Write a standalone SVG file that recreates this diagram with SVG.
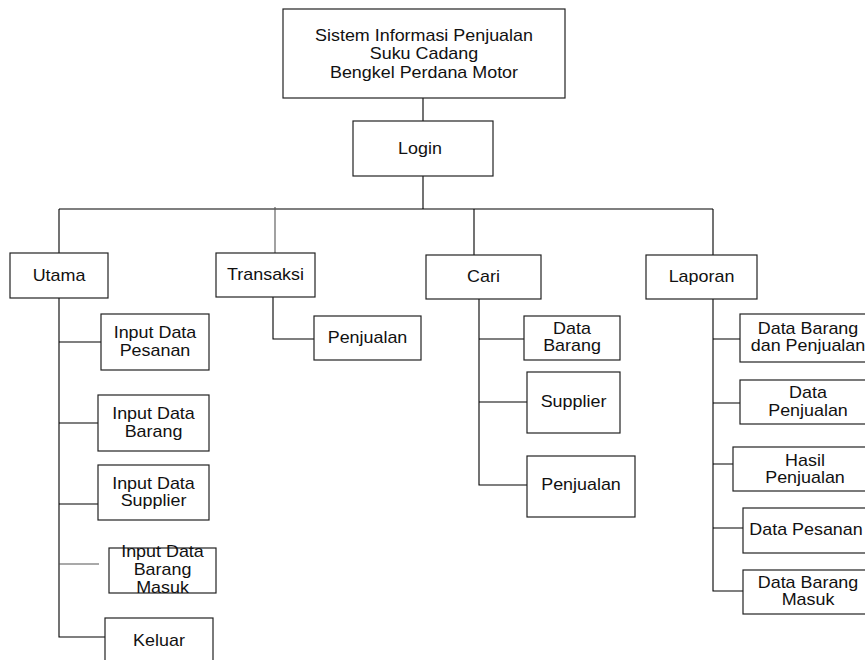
<svg xmlns="http://www.w3.org/2000/svg" width="865" height="660" viewBox="0 0 865 660">
<style>
.box{fill:#fff;stroke:#222;stroke-width:1.2}
.t{font-family:"Liberation Sans",Arial,sans-serif;font-size:16px;fill:#111;text-anchor:middle}
.c{fill:none;stroke:#000;stroke-width:1.1}
.g{stroke:#555}
</style>
<rect width="865" height="660" fill="#fff"/>
<g id="connectors">
<path class="c" d="M423 98V121M423 176V209M59 209H713M59 209V253M474 209V255M713 209V255"/>
<path class="c g" d="M275 207V253"/>
<path class="c" d="M59 298V637H105M59 342H101M59 423H98M59 504H98"/>
<path class="c g" d="M59 564H99"/>
<path class="c" d="M273 297V339H314"/>
<path class="c" d="M479 299V485H527M479 339H524M479 402H527"/>
<path class="c" d="M713 299V591H743M713 339H740M713 403H740M713 464H733M713 528H743"/>
</g>
<g id="root"><rect class="box" x="283" y="9" width="282" height="89"/>
<text class="t" transform="translate(424,41) scale(1.12,1)"><tspan x="0">Sistem Informasi Penjualan</tspan><tspan x="0" dy="18.5">Suku Cadang</tspan><tspan x="0" dy="18.5">Bengkel Perdana Motor</tspan></text></g>
<g id="login"><rect class="box" x="353" y="121" width="140" height="55"/>
<text class="t" transform="translate(420,154) scale(1.12,1)">Login</text></g>
<g id="utama"><rect class="box" x="10" y="253" width="98" height="45"/>
<text class="t" transform="translate(59,281) scale(1.12,1)">Utama</text></g>
<g id="transaksi"><rect class="box" x="216" y="253" width="99" height="44"/>
<text class="t" transform="translate(265.5,280) scale(1.12,1)">Transaksi</text></g>
<g id="cari"><rect class="box" x="426" y="255" width="115" height="44"/>
<text class="t" transform="translate(483.5,281.5) scale(1.12,1)">Cari</text></g>
<g id="laporan"><rect class="box" x="646" y="255" width="111" height="44"/>
<text class="t" transform="translate(701.5,281.5) scale(1.12,1)">Laporan</text></g>
<g id="input-pesanan"><rect class="box" x="101" y="314" width="108" height="56"/>
<text class="t" transform="translate(155,338) scale(1.12,1)"><tspan x="0">Input Data</tspan><tspan x="0" dy="18">Pesanan</tspan></text></g>
<g id="input-barang"><rect class="box" x="98" y="395" width="111" height="56"/>
<text class="t" transform="translate(153.5,419.3) scale(1.12,1)"><tspan x="0">Input Data</tspan><tspan x="0" dy="17.5">Barang</tspan></text></g>
<g id="input-supplier"><rect class="box" x="98" y="465" width="111" height="55"/>
<text class="t" transform="translate(153.5,489.3) scale(1.12,1)"><tspan x="0">Input Data</tspan><tspan x="0" dy="17">Supplier</tspan></text></g>
<g id="input-barang-masuk"><rect class="box" x="109" y="548" width="107" height="45"/>
<text class="t" transform="translate(162.5,557.3) scale(1.12,1)"><tspan x="0">Input Data</tspan><tspan x="0" dy="17.7">Barang</tspan><tspan x="0" dy="17.7">Masuk</tspan></text></g>
<g id="keluar"><rect class="box" x="105" y="618" width="108" height="50"/>
<text class="t" transform="translate(159,645.7) scale(1.12,1)">Keluar</text></g>
<g id="transaksi-penjualan"><rect class="box" x="314" y="316" width="107" height="44"/>
<text class="t" transform="translate(367.5,342.7) scale(1.12,1)">Penjualan</text></g>
<g id="cari-data-barang"><rect class="box" x="524" y="316" width="96" height="44"/>
<text class="t" transform="translate(572,334.3) scale(1.12,1)"><tspan x="0">Data</tspan><tspan x="0" dy="16.7">Barang</tspan></text></g>
<g id="cari-supplier"><rect class="box" x="527" y="372" width="93" height="61"/>
<text class="t" transform="translate(573.5,406.7) scale(1.12,1)">Supplier</text></g>
<g id="cari-penjualan"><rect class="box" x="527" y="456" width="108" height="61"/>
<text class="t" transform="translate(581,490) scale(1.12,1)">Penjualan</text></g>
<g id="lap-barang-penjualan"><rect class="box" x="740" y="314" width="136" height="48"/>
<text class="t" transform="translate(808,334.3) scale(1.12,1)"><tspan x="0">Data Barang</tspan><tspan x="0" dy="16.7">dan Penjualan</tspan></text></g>
<g id="lap-penjualan"><rect class="box" x="740" y="380" width="136" height="44"/>
<text class="t" transform="translate(808,397.7) scale(1.12,1)"><tspan x="0">Data</tspan><tspan x="0" dy="18">Penjualan</tspan></text></g>
<g id="lap-hasil"><rect class="box" x="733" y="447" width="143" height="44"/>
<text class="t" transform="translate(805,466) scale(1.12,1)"><tspan x="0">Hasil</tspan><tspan x="0" dy="17.3">Penjualan</tspan></text></g>
<g id="lap-pesanan"><rect class="box" x="743" y="508" width="130" height="45"/>
<text class="t" transform="translate(806,535) scale(1.12,1)">Data Pesanan</text></g>
<g id="lap-barang-masuk"><rect class="box" x="743" y="570" width="130" height="44"/>
<text class="t" transform="translate(808,588.3) scale(1.12,1)"><tspan x="0">Data Barang</tspan><tspan x="0" dy="16.7">Masuk</tspan></text></g>
</svg>
